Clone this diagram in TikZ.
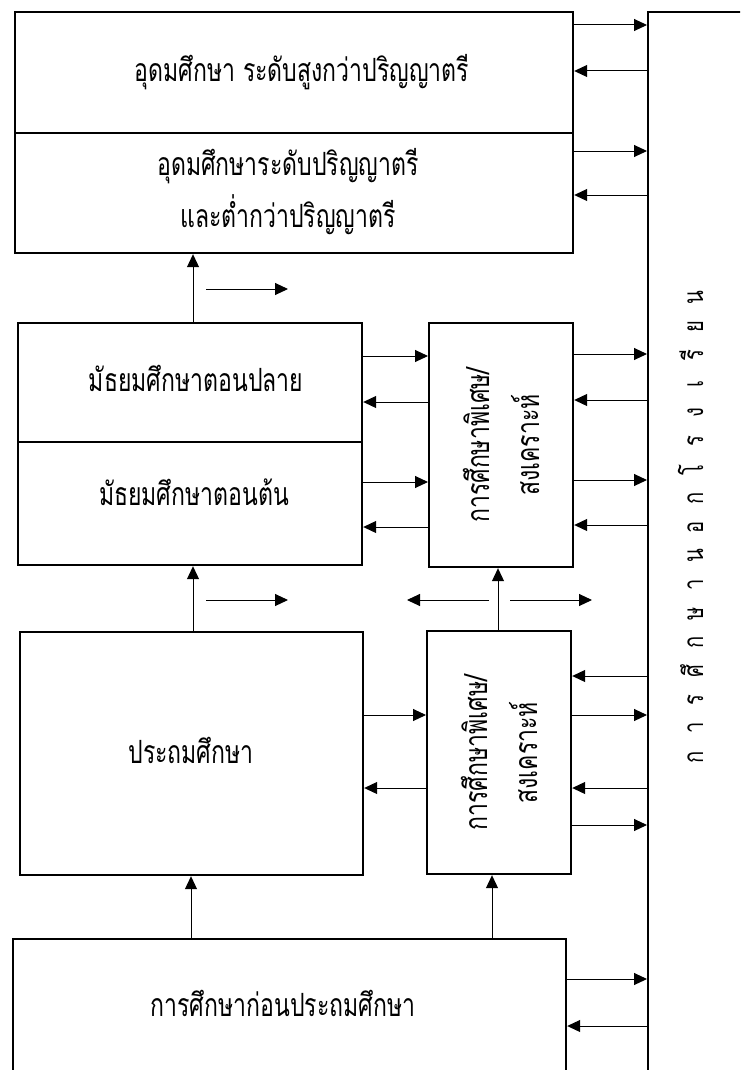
\documentclass[tikz,border=0pt]{standalone}
\usepackage{fontspec}
\newfontfamily\thai[Script=Thai,FakeStretch=0.72]{Loma}
\usetikzlibrary{arrows.meta}
\begin{document}
\begin{tikzpicture}[x=1pt,y=-1pt,
  box/.style={draw, line width=2.2pt, rectangle, inner sep=0pt, anchor=north west},
  arr/.style={line width=1pt, -{Triangle[length=13pt,width=12pt]}},
  lbl/.style={font=\thai\fontsize{32}{52}\selectfont, align=center},
  vlbl/.style={font=\thai\fontsize{32}{50}\selectfont, align=center, rotate=90},
  glyph/.style={font=\thai\fontsize{28}{30}\selectfont, rotate=90, anchor=base, inner sep=0pt}]
\clip (0,0) rectangle (740,1070);
\fill[white] (0,0) rectangle (740,1070);
% boxes
\node[box, minimum width=558pt, minimum height=121pt] (hi) at (14,11) {};
\node[box, minimum width=558pt, minimum height=120pt] (bach) at (14,132) {};
\node[box, minimum width=344pt, minimum height=119pt] (upper) at (17,322) {};
\node[box, minimum width=344pt, minimum height=123pt] (lower) at (17,441) {};
\node[box, minimum width=144pt, minimum height=244pt] (sp1) at (428,322) {};
\node[box, minimum width=343pt, minimum height=243pt] (prim) at (19,631) {};
\node[box, minimum width=144pt, minimum height=243pt] (sp2) at (426,630) {};
\node[box, minimum width=553pt, minimum height=160pt] (pre) at (12,938) {};
\node[box, minimum width=120pt, minimum height=1100pt] (bar) at (647,11) {};
% labels
\node[lbl] at (302,72) {อุดมศึกษา ระดับสูงกว่าปริญญาตรี};
\node[lbl] at (288,192) {อุดมศึกษาระดับปริญญาตรี\\และต่ำกว่าปริญญาตรี};
\node[lbl] at (196,378) {มัธยมศึกษาตอนปลาย};
\node[lbl] at (194,492) {มัธยมศึกษาตอนต้น};
\node[lbl] at (191,750) {ประถมศึกษา};
\node[lbl] at (283,1003) {การศึกษาก่อนประถมศึกษา};
\node[vlbl] at (sp1.center) {การศึกษาพิเศษ/\\สงเคราะห์};
\node[vlbl] at (sp2.center) {การศึกษาพิเศษ/\\สงเคราะห์};
\foreach \g [count=\i from 0] in {ก,า,ร,ศึ,ก,ษ,า,น,อ,ก,โ,ร,ง,เ,รี,ย,น}
  \node[glyph] at (703,757-\i*28.7) {\g};
% vertical arrows
\draw[arr] (upper.north -| 193,0) -- (bach.south -| 193,0);
\draw[arr] (prim.north -| 193,0) -- (lower.south -| 193,0);
\draw[arr] (sp2.north -| 498,0) -- (sp1.south -| 498,0);
\draw[arr] (pre.north -| 191,0) -- (prim.south -| 191,0);
\draw[arr] (pre.north -| 492,0) -- (sp2.south -| 492,0);
% free arrows
\coordinate (fa1) at (206,289); \coordinate (fb1) at (288,289);
\coordinate (fa2) at (206,600); \coordinate (fb2) at (288,600);
\coordinate (fa3) at (489,600); \coordinate (fb3) at (407,600);
\coordinate (fa4) at (510,600); \coordinate (fb4) at (592,600);
\draw[arr] (fa1) -- (fb1);
\draw[arr] (fa2) -- (fb2);
\draw[arr] (fa3) -- (fb3);
\draw[arr] (fa4) -- (fb4);
% horizontal arrows: top
\draw[arr] (hi.east |- 0,25) -- (bar.west |- 0,25);
\draw[arr] (bar.west |- 0,71) -- (hi.east |- 0,71);
\draw[arr] (bach.east |- 0,151) -- (bar.west |- 0,151);
\draw[arr] (bar.west |- 0,195) -- (bach.east |- 0,195);
% secondary <-> sp1
\draw[arr] (upper.east |- 0,356) -- (sp1.west |- 0,356);
\draw[arr] (sp1.west |- 0,402) -- (upper.east |- 0,402);
\draw[arr] (lower.east |- 0,482) -- (sp1.west |- 0,482);
\draw[arr] (sp1.west |- 0,527) -- (lower.east |- 0,527);
% sp1 <-> bar
\draw[arr] (sp1.east |- 0,354) -- (bar.west |- 0,354);
\draw[arr] (bar.west |- 0,400) -- (sp1.east |- 0,400);
\draw[arr] (sp1.east |- 0,480) -- (bar.west |- 0,480);
\draw[arr] (bar.west |- 0,525) -- (sp1.east |- 0,525);
% prim <-> sp2
\draw[arr] (prim.east |- 0,715) -- (sp2.west |- 0,715);
\draw[arr] (sp2.west |- 0,788) -- (prim.east |- 0,788);
% sp2 <-> bar
\draw[arr] (bar.west |- 0,676) -- (sp2.east |- 0,676);
\draw[arr] (sp2.east |- 0,715) -- (bar.west |- 0,715);
\draw[arr] (bar.west |- 0,788) -- (sp2.east |- 0,788);
\draw[arr] (sp2.east |- 0,825) -- (bar.west |- 0,825);
% pre <-> bar
\draw[arr] (pre.east |- 0,979) -- (bar.west |- 0,979);
\draw[arr] (bar.west |- 0,1026) -- (pre.east |- 0,1026);
\end{tikzpicture}
\end{document}
